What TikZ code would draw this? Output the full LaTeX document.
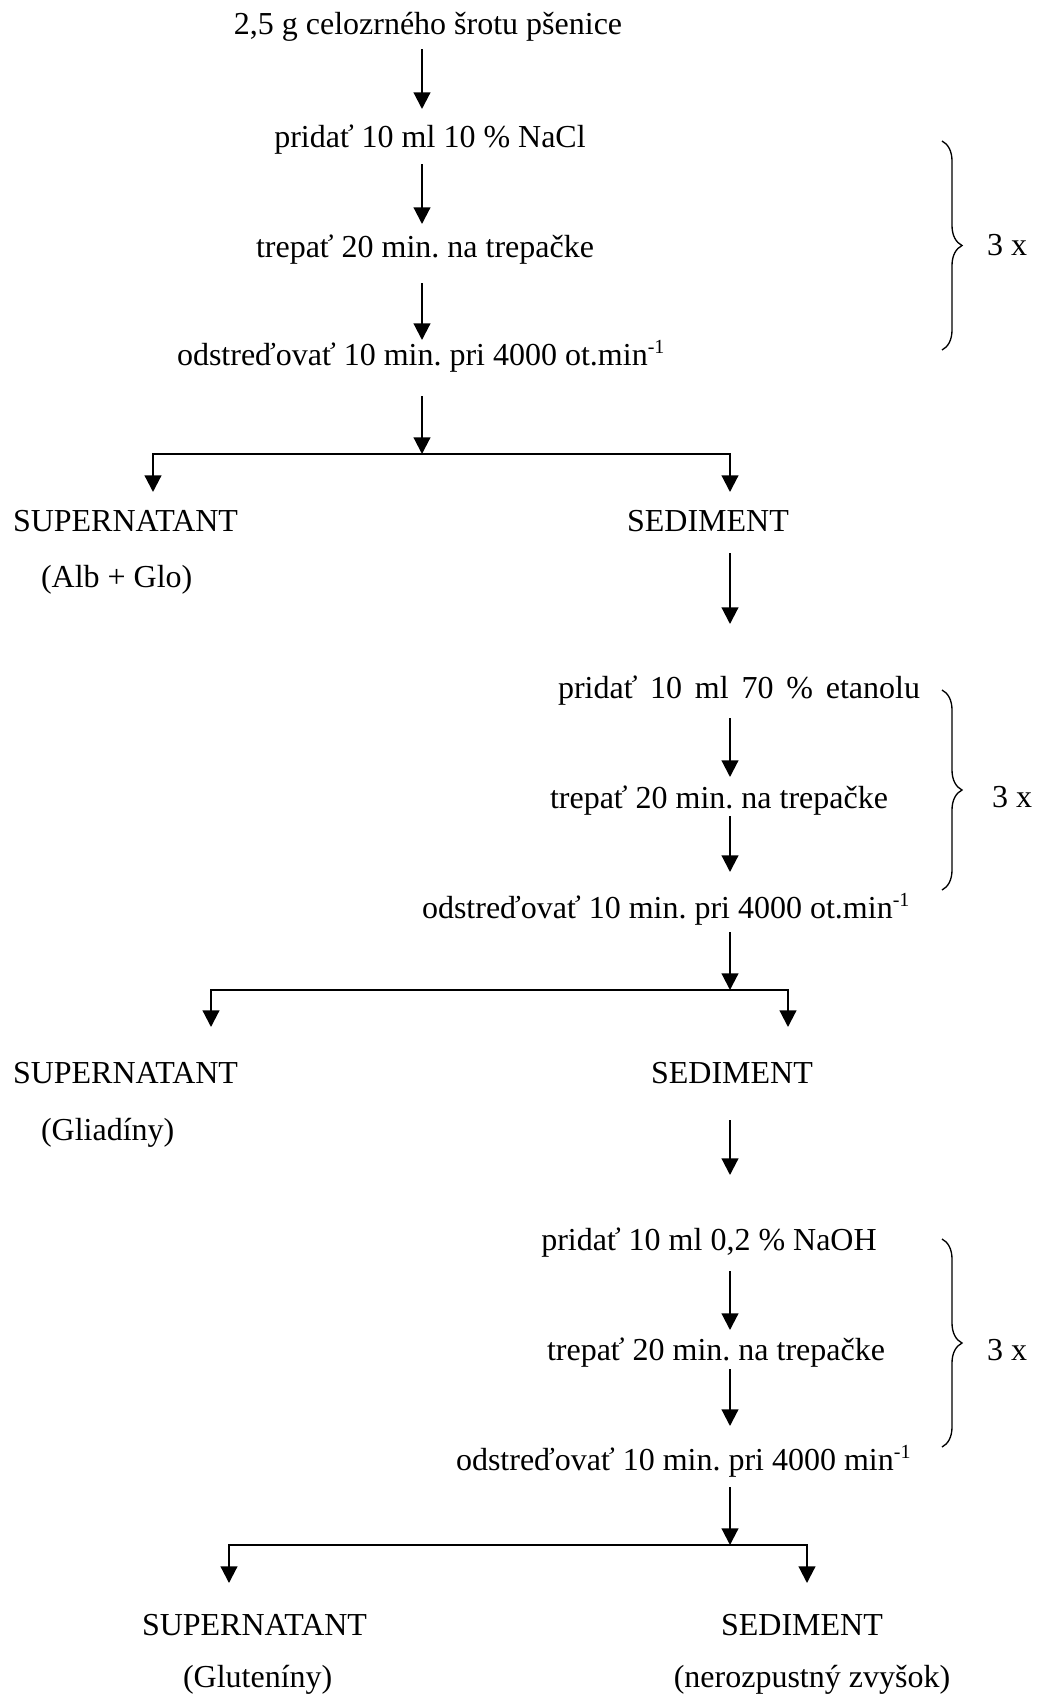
\documentclass[tikz,border=0pt]{standalone}
\usepackage{fontspec}
\setmainfont{Liberation Serif}
\usetikzlibrary{arrows.meta,decorations.pathreplacing}
\newcommand{\supm}[1]{\raisebox{8.5pt}{\fontsize{15}{15}\selectfont #1}}
\begin{document}
\frenchspacing
\begin{tikzpicture}[x=0.75pt,y=-0.75pt,
  txt/.style={inner sep=0pt, outer sep=0pt, text height=16.5pt, text depth=5.25pt,
              font=\fontsize{24}{28}\selectfont\frenchspacing, anchor=base},
  ltxt/.style={txt, anchor=base west},
  arr/.style={line width=1.6pt, -{Triangle[width=12.5pt,length=12.5pt]}},
  brc/.style={decorate, decoration={brace, amplitude=15pt}, line width=1pt},
]
\useasboundingbox (0,0) rectangle (1043,1697);

% columns
\coordinate (cA) at (422,0);
\coordinate (cB) at (730,0);
\coordinate (xL1) at (153,0);
\coordinate (xL2) at (211,0);
\coordinate (xR2) at (788,0);
\coordinate (xL3) at (229,0);
\coordinate (xR3) at (807,0);
\coordinate (j1) at (422,454);
\coordinate (j2) at (730,990);
\coordinate (j3) at (730,1545);

% texts
\node[txt]  (t0) at (428,34)  {2,5 g celozrného šrotu pšenice};
\node[txt]  (t1) at (430,147) {pridať 10 ml 10 \% NaCl};
\node[txt]  (t2) at (425,257) {trepať 20 min. na trepačke};
\node[ltxt] (t3) at (177,365) {odstreďovať 10 min. pri 4000 ot.min\supm{-1}};
\node[ltxt] (sup1) at (13,531) {SUPERNATANT};
\node[txt]  (sed1) at (708,531) {SEDIMENT};
\node[ltxt] (alb) at (41,587) {(Alb + Glo)};

\node[ltxt] (t4) at (558,698) {\spaceskip=0.4em pridať 10 ml 70 \% etanolu};
\node[txt]  (t5) at (719,808) {trepať 20 min. na trepačke};
\node[ltxt] (t6) at (422,918) {odstreďovať 10 min. pri 4000 ot.min\supm{-1}};
\node[ltxt] (sup2) at (13,1083) {SUPERNATANT};
\node[txt]  (sed2) at (732,1083) {SEDIMENT};
\node[ltxt] (gli) at (41,1140) {(Gliadíny)};

\node[txt]  (t7) at (709,1250) {pridať 10 ml 0,2 \% NaOH};
\node[txt]  (t8) at (716,1360) {trepať 20 min. na trepačke};
\node[ltxt] (t9) at (456,1470) {odstreďovať 10 min. pri 4000 min\supm{-1}};
\node[ltxt] (sup3) at (142,1635) {SUPERNATANT};
\node[txt]  (sed3) at (802,1635) {SEDIMENT};
\node[ltxt] (glu) at (183,1687) {(Gluteníny)};
\node[txt]  (ner) at (812,1687) {(nerozpustný zvyšok)};

% 3 x labels
\node[ltxt] (k1) at (987,255)  {3 x};
\node[ltxt] (k2) at (992,807)  {3 x};
\node[ltxt] (k3) at (987,1360) {3 x};

% braces
\coordinate (b1t) at (942,141);  \coordinate (b1b) at (942,350);
\coordinate (b2t) at (942,690);  \coordinate (b2b) at (942,890);
\coordinate (b3t) at (942,1239); \coordinate (b3b) at (942,1447);
\draw[brc] (b1t) -- (b1b);
\draw[brc] (b2t) -- (b2b);
\draw[brc] (b3t) -- (b3b);

% first block
\draw[arr, shorten <=6pt, shorten >=12pt]    (t0.south -| cA) -- (t1.north -| cA);
\draw[arr, shorten <=7.5pt, shorten >=8.25pt] (t1.south -| cA) -- (t2.north -| cA);
\draw[arr, shorten <=14.25pt, shorten >=2.25pt] (t2.south -| cA) -- (t3.north -| cA);
\draw[arr, shorten <=18pt] (t3.south -| cA) -- (j1);
\draw[arr, shorten >=12.75pt] (j1) -| (sup1.north -| xL1);
\draw[arr, shorten >=12.75pt] (j1) -| (sed1.north -| cB);

% second block
\draw[arr, shorten <=11.25pt, shorten >=39pt] (sed1.south -| cB) -- (t4.north -| cB);
\draw[arr, shorten <=9.75pt, shorten >=6.75pt] (t4.south -| cB) -- (t5.north -| cB);
\draw[arr, shorten <=0.75pt, shorten >=18pt] (t5.south -| cB) -- (t6.north -| cB);
\draw[arr, shorten <=5.25pt] (t6.south -| cB) -- (j2);
\draw[arr, shorten >=25.5pt] (j2) -| (sup2.north -| xL2);
\draw[arr, shorten >=25.5pt] (j2) -| (sed2.north -| xR2);

% third block
\draw[arr, shorten <=22.5pt, shorten >=39.75pt] (sed2.south -| cB) -- (t7.north -| cB);
\draw[arr, shorten <=10.5pt, shorten >=6pt] (t7.south -| cB) -- (t8.north -| cB);
\draw[arr, shorten <=1.5pt, shorten >=16.5pt] (t8.south -| cB) -- (t9.north -| cB);
\draw[arr, shorten <=7.5pt] (t9.south -| cB) -- (j3);
\draw[arr, shorten >=22.5pt] (j3) -| (sup3.north -| xL3);
\draw[arr, shorten >=22.5pt] (j3) -| (sed3.north -| xR3);
\end{tikzpicture}
\end{document}
